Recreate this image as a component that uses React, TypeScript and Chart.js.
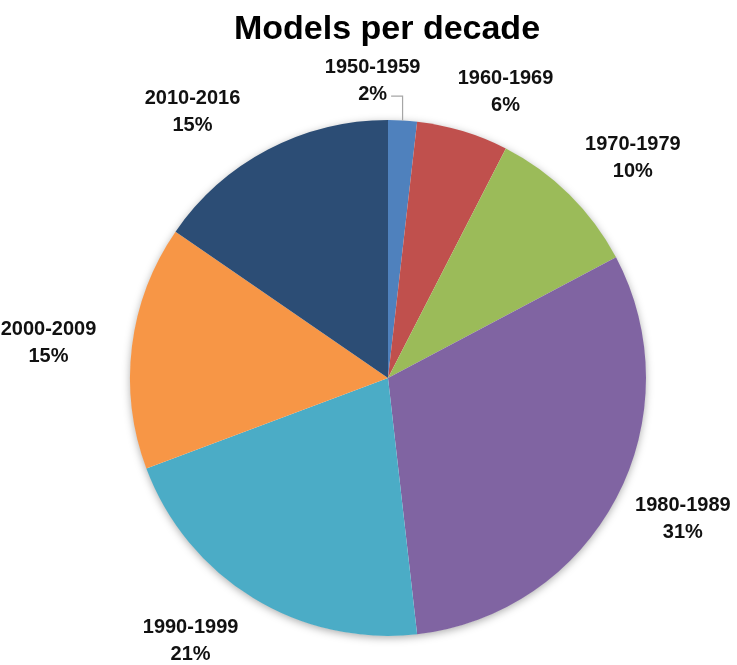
import React, { useEffect, useRef } from "react";
import { Chart, registerables } from "chart.js";

Chart.register(...registerables);

const categories = ["1950-1959", "1960-1969", "1970-1979", "1980-1989", "1990-1999", "2000-2009", "2010-2016"];
const shares = [1.8, 5.75, 9.7, 30.95, 21.1, 15.3, 15.4];
const sliceColors = ["#4F81BD", "#C0504D", "#9BBB59", "#8064A2", "#4BACC6", "#F79646", "#2C4D75"];
const titleText = "Models per decade";

// label nudges (px) relative to the mid-angle ray position
const labelNudges: [number, number][] = [
  [-34, 32],
  [22, 30],
  [13, 15],
  [3, -13],
  [-25, -18],
  [-12, 5],
  [-42, 26],
];

const shadowPlugin = {
  id: "pieShadow",
  beforeDatasetsDraw(chart: any) {
    const meta = chart.getDatasetMeta(0);
    const arc = meta.data[0];
    if (!arc) return;
    const { x, y, outerRadius } = arc.getProps(["x", "y", "outerRadius"], true);
    const ctx = chart.ctx;
    ctx.save();
    ctx.shadowColor = "rgba(0,0,0,0.35)";
    ctx.shadowBlur = 9;
    ctx.shadowOffsetY = 2;
    ctx.fillStyle = "#ffffff";
    ctx.beginPath();
    ctx.arc(x, y, outerRadius - 0.5, 0, Math.PI * 2);
    ctx.fill();
    ctx.restore();
  },
};

const labelPlugin = {
  id: "outsideLabels",
  afterDatasetsDraw(chart: any) {
    const ctx = chart.ctx;
    const meta = chart.getDatasetMeta(0);
    const data = chart.data.datasets[0].data as number[];
    const total = data.reduce((a, b) => a + b, 0);
    ctx.save();
    ctx.font = "bold 20px 'Liberation Sans'";
    ctx.fillStyle = "#111111";
    ctx.textAlign = "center";
    ctx.textBaseline = "middle";
    const lineGap = 27;
    meta.data.forEach((arc: any, i: number) => {
      const p = arc.getProps(["x", "y", "startAngle", "endAngle", "outerRadius"], true);
      const mid = (p.startAngle + p.endAngle) / 2;
      const r = p.outerRadius + 72;
      const nx = labelNudges[i][0];
      const ny = labelNudges[i][1];
      const cx = p.x + Math.cos(mid) * r + nx;
      const cy = p.y + Math.sin(mid) * r + ny;
      const pct = Math.round((data[i] / total) * 100) + "%";
      ctx.fillText(chart.data.labels[i], cx, cy - lineGap / 2);
      ctx.fillText(pct, cx, cy + lineGap / 2);
      if (i === 0) {
        const ex = p.x + Math.cos(mid) * p.outerRadius;
        const ey = p.y + Math.sin(mid) * p.outerRadius;
        const w = ctx.measureText(pct).width;
        const ly = cy + lineGap / 2 + 2;
        ctx.save();
        ctx.strokeStyle = "#A6A6A6";
        ctx.lineWidth = 1.2;
        ctx.beginPath();
        ctx.moveTo(ex, ey);
        ctx.lineTo(ex, ly);
        ctx.lineTo(cx + w / 2 + 4, ly);
        ctx.stroke();
        ctx.restore();
      }
    });
    ctx.restore();
  },
};

const titlePlugin = {
  id: "customTitle",
  afterDraw(chart: any) {
    const ctx = chart.ctx;
    ctx.save();
    ctx.font = "bold 34px 'Liberation Sans'";
    ctx.fillStyle = "#000000";
    ctx.textAlign = "center";
    ctx.textBaseline = "alphabetic";
    ctx.fillText(titleText, 387, 39);
    ctx.restore();
  },
};

export default function App() {
  const canvasRef = useRef<HTMLCanvasElement | null>(null);

  useEffect(() => {
    if (!canvasRef.current) return;
    const chart = new Chart(canvasRef.current, {
      type: "pie",
      data: {
        labels: categories,
        datasets: [
          {
            data: shares,
            backgroundColor: sliceColors,
            borderWidth: 0,
          },
        ],
      },
      options: {
        responsive: false,
        animation: false,
        layout: { padding: { left: 130, right: 91, top: 120, bottom: 29 } },
        plugins: {
          legend: { display: false },
          tooltip: { enabled: false },
          title: { display: false },
        },
      },
      plugins: [shadowPlugin, labelPlugin, titlePlugin],
    });
    return () => chart.destroy();
  }, []);

  return (
    <div style={{ position: "fixed", left: 0, top: 0, width: 737, height: 665, background: "#ffffff" }}>
      <canvas ref={canvasRef} width={737} height={665} style={{ width: 737, height: 665 }} />
    </div>
  );
}
